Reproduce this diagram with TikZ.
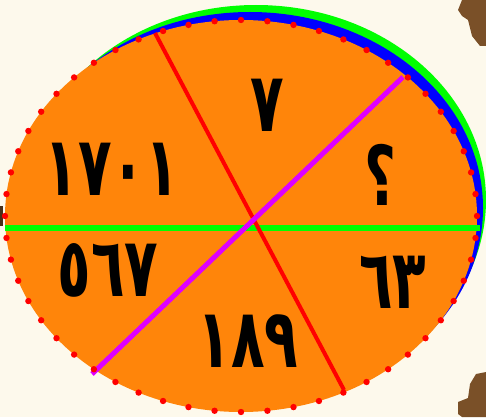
\documentclass[tikz,border=0pt]{standalone}
\usepackage{fontspec}
\usepackage{xcolor}
\usepackage{tikz}
\newfontfamily\arabicfont[Script=Arabic]{DejaVu Sans}
\TeXXeTstate=1
\newcommand{\tallnum}[1]{\scalebox{1}[1.5]{#1}}

\begin{document}
\begin{tikzpicture}[
  x=1pt, y=-1pt,
  num/.style={font=\arabicfont\bfseries\fontsize{55}{60}\selectfont, text=black, inner sep=0pt},
  rim/.style={fill=#1},
  cut/.style={line width=#1, line cap=butt},
  blob/.style={fill=cBrown, draw=none},
]
\definecolor{cBg}{HTML}{FDF9EC}
\definecolor{cOrange}{HTML}{FF850A}
\definecolor{cGreen}{HTML}{00FF00}
\definecolor{cBlue}{HTML}{0000FF}
\definecolor{cRed}{HTML}{FF0000}
\definecolor{cMagenta}{HTML}{DD00FF}
\definecolor{cBrown}{HTML}{7A5028}

\useasboundingbox (0,0) rectangle (486,417);
\fill[cBg] (0,0) rectangle (486,417);

% background pieces at the edges
\fill[blob] (486,0) -- (462,0) -- (458,10) -- (462,16) -- (468,20) -- (472,36) -- (480,46) -- (486,46) -- cycle;
\fill[blob] (486,372) -- (476,374) -- (470,384) -- (468,398) -- (458,402) -- (458,414) -- (462,417) -- (486,417) -- cycle;
\fill[cBrown!60!black] (0,206) rectangle (2.5,226);

% rims and disc
\fill[rim=cGreen] (256,200) ellipse (230 and 195);
\fill[rim=cBlue] (250,208) ellipse (233 and 196);
\fill[rim=cOrange] (241,216) ellipse (236 and 196);

% dividing lines
\coordinate (gL) at (5,228);
\coordinate (gR) at (480,228);
\coordinate (rT) at (155,33);
\coordinate (rB) at (344,390);
\coordinate (mT) at (403,77);
\coordinate (mB) at (92,374);
\draw[cut=6pt, cGreen] (gL) -- (gR);
\draw[cut=4pt, cRed] (rT) -- (rB);
\draw[cut=5pt, cMagenta] (mT) -- (mB);

% dotted border
\foreach \i in {0,...,55}
  \fill[cRed] ({241+236*cos(6.4286*\i)},{216+196*sin(6.4286*\i)}) circle (3.2);

% numbers
\node[num] (n7) at (267,105) {\tallnum{٧}};
\node[num] (nq) at (380,175) {\tallnum{؟}};
\node[num] (n63) at (393,282) {\tallnum{٦٣}};
\node[num] (n189) at (248,341) {\tallnum{١٨٩}};
\node[num] (n567) at (108,270) {\tallnum{٥٦٧}};
\node[num] (n1701) at (112,169) {\tallnum{١٧٠١}};
\end{tikzpicture}
\end{document}
